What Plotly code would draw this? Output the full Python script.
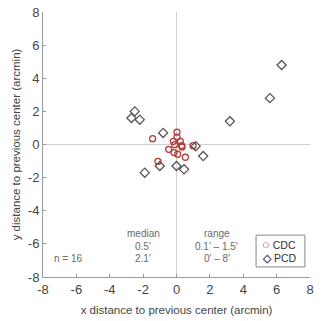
import plotly.graph_objects as go

cdc_x = [-1.43, 0.03, 0.03, -0.19, 0.23, 0.31, 0.33, -0.11, -0.47, -0.15, 0.07, 0.53, 0.99, -1.11]
cdc_y = [0.35, 0.75, 0.45, 0.19, 0.19, -0.07, -0.15, -0.01, -0.29, -0.49, -0.59, -0.77, -0.07, -1.02]

pcd_x = [-2.7, -2.5, -2.2, -0.8, -1.9, -1.0, 0.0, 0.45, 1.15, 1.6, 3.2, 5.6, 6.3]
pcd_y = [1.6, 2.0, 1.5, 0.7, -1.7, -1.3, -1.3, -1.5, -0.1, -0.7, 1.4, 2.8, 4.8]

series_names = ["CDC", "PCD"]
series_colors = ["#b73a3a", "#555555"]
series_glyphs = ["\u25cb", "\u25c7"]
glyph_sizes = [13, 11]

tick_vals = [-8, -6, -4, -2, 0, 2, 4, 6, 8]
tick_text = ["-8", "-6", "-4", "-2", "0", "2", "4", "6", "8"]

FONT = "Liberation Sans, Arial, sans-serif"

fig = go.Figure()
fig.add_trace(go.Scatter(x=cdc_x, y=cdc_y, mode="markers", name="CDC", showlegend=False,
                         marker=dict(symbol="circle-open", size=6, color=series_colors[0],
                                     line=dict(width=1.3, color=series_colors[0]))))
fig.add_trace(go.Scatter(x=pcd_x, y=pcd_y, mode="markers", name="PCD", showlegend=False,
                         marker=dict(symbol="diamond-open", size=7, color=series_colors[1],
                                     line=dict(width=1.3, color=series_colors[1]))))

ann = [
    (-2.0, -5.4, "median"), (-2.0, -6.13, "0.5'"), (-2.0, -6.88, "2.1'"),
    (2.4, -5.4, "range"), (2.4, -6.13, "0.1' \u2013 1.5'"), (2.4, -6.88, "0' \u2013 8'"),
    (-6.5, -6.88, "n = 16"),
]
for x, y, t in ann:
    fig.add_annotation(x=x, y=y, text=t, showarrow=False, xref="x", yref="y",
                       font=dict(family=FONT, size=10, color="#6a6a6a"))

# legend box (compact, like the original)
fig.add_shape(type="rect", xref="paper", yref="paper", x0=0.798, x1=0.981, y0=0.038, y1=0.158,
              line=dict(color="#888888", width=1), fillcolor="white", layer="above")
for i, (nm, col, gl, gs) in enumerate(zip(series_names, series_colors, series_glyphs, glyph_sizes)):
    yy = 0.121 - i * 0.049
    fig.add_annotation(x=0.812, y=yy, xref="paper", yref="paper", xanchor="left", yanchor="middle",
                       showarrow=False,
                       text=f"<span style='color:{col};font-size:{gs}px'><b>{gl}</b></span> {nm}",
                       font=dict(family=FONT, size=10.5, color="#333333"))

axis_common = dict(range=[-8, 8], tickvals=tick_vals, ticktext=tick_text,
                   showgrid=False, zeroline=True, zerolinecolor="#d0d0d0", zerolinewidth=1,
                   showline=True, linecolor="#999999", linewidth=1,
                   ticks="inside", ticklen=3, tickcolor="#999999",
                   tickfont=dict(family=FONT, size=13, color="#444444"),
                   automargin=False, fixedrange=True)

fig.update_layout(
    width=323, height=321,
    margin=dict(l=43, r=13, t=12, b=44),
    paper_bgcolor="white", plot_bgcolor="white",
    showlegend=False,
    xaxis=dict(title=dict(text="x distance to previous center (arcmin)", standoff=10,
                          font=dict(family=FONT, size=11.5, color="#444444")),
               **axis_common),
    yaxis=dict(title=dict(text="y distance to previous center (arcmin)", standoff=4,
                          font=dict(family=FONT, size=11.5, color="#444444")),
               **axis_common),
)

fig.write_html("out.html", config={"displayModeBar": False},
               post_script="document.body.style.margin='0';document.body.style.overflow='hidden';")
